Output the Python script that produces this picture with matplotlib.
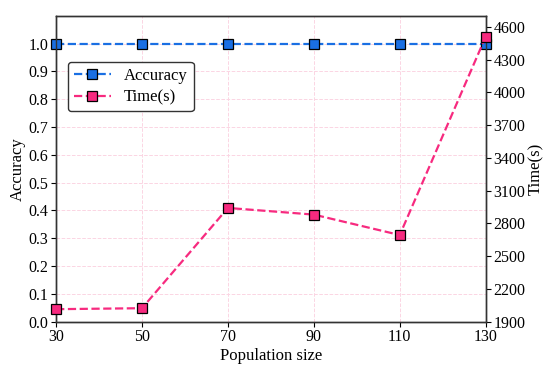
import numpy as np
import matplotlib.pyplot as plt

plt.rcParams['font.family'] = ['Liberation Serif', 'DejaVu Serif']

pop_size = [30, 50, 70, 90, 110, 130]
accuracy = [1.0, 1.0, 1.0, 1.0, 1.0, 1.0]
time_s = [2014, 2023, 2941, 2880, 2693, 4508]

blue = '#1a6fe3'
pink = '#f72a7f'

fig = plt.figure(figsize=(5.5, 3.68), dpi=100)
ax = fig.add_axes([0.102, 0.126, 0.781, 0.831])
ax2 = ax.twinx()

l1, = ax.plot(pop_size, accuracy, color=blue, linestyle='--', linewidth=1.6,
              marker='s', markersize=7, markerfacecolor=blue,
              markeredgecolor='black', markeredgewidth=0.9,
              label='Accuracy', clip_on=False, zorder=5)
l2, = ax2.plot(pop_size, time_s, color=pink, linestyle='--', linewidth=1.6,
               marker='s', markersize=7, markerfacecolor=pink,
               markeredgecolor='black', markeredgewidth=0.9,
               label='Time(s)', clip_on=False, zorder=5)

ax.set_xlim(30, 130)
ax.set_ylim(0, 1.1)
ax.set_xticks(pop_size)
ax.set_yticks(np.arange(0, 1.01, 0.1))
ax.set_yticklabels(['%.1f' % v for v in np.arange(0, 1.01, 0.1)])
ax2.set_ylim(1900, 4700)
ax2.set_yticks(np.arange(1900, 4601, 300))

ax.grid(True, color='#fbd5e3', linestyle='--', linewidth=0.7)
ax.set_axisbelow(True)

ax.set_xlabel('Population size', fontsize=12, labelpad=2)
ax.set_ylabel('Accuracy', fontsize=12, labelpad=2)
ax2.set_ylabel('Time(s)', fontsize=12, labelpad=2)
ax.tick_params(labelsize=11.5, length=3.5, pad=2)
ax2.tick_params(labelsize=11.5, length=3.5, pad=2)

for a in (ax, ax2):
    for s in a.spines.values():
        s.set_color('#333333')
        s.set_linewidth(1.0)

leg = ax.legend(handles=[l1, l2], loc='upper left', bbox_to_anchor=(0.028, 0.85),
                borderaxespad=0, borderpad=0.35, labelspacing=0.35,
                fontsize=12, frameon=True, edgecolor='#333333', fancybox=True,
                framealpha=1, handlelength=2.2)
leg.set_zorder(10)

plt.savefig('out.png', dpi=100)
plt.close()
